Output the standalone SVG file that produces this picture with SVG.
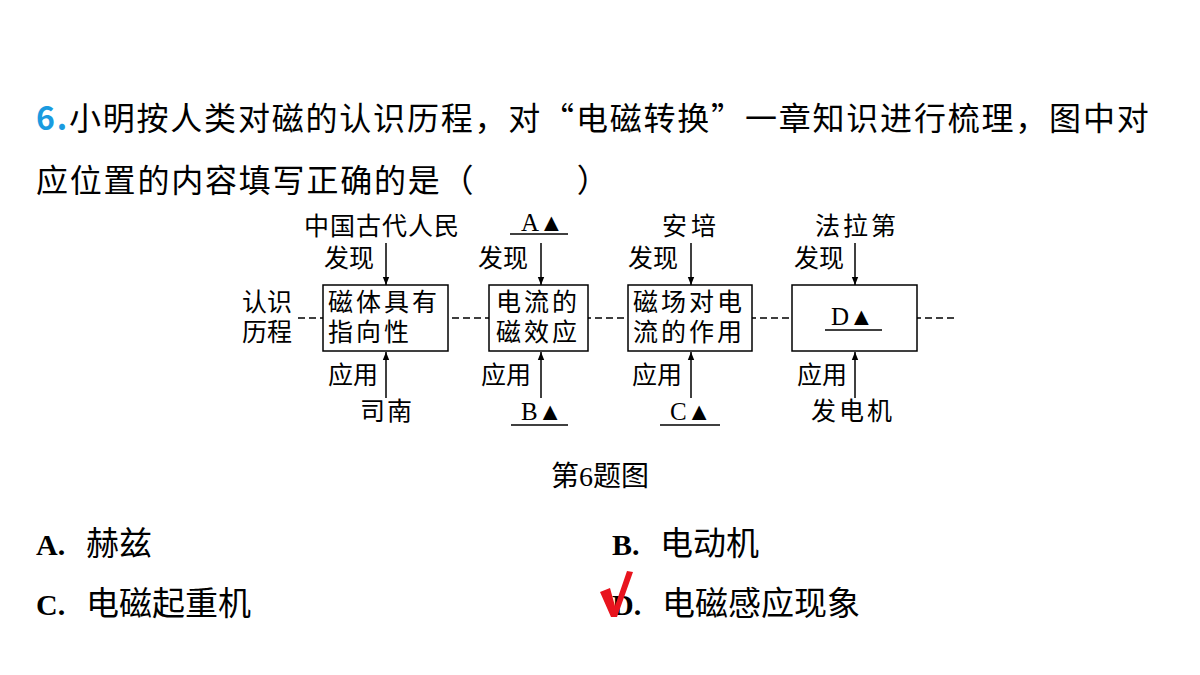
<svg xmlns="http://www.w3.org/2000/svg" width="1200" height="675" viewBox="0 0 1200 675">
<defs>
<marker id="ar" viewBox="0 0 10 10" refX="10" refY="5" markerWidth="8" markerHeight="8" markerUnits="userSpaceOnUse" orient="auto"><path d="M0,1 L10,5 L0,9 Z" fill="#000"/></marker>
</defs>
<style>
.q{font-family:"Noto Sans CJK SC","Noto Sans",sans-serif;font-size:32px;fill:#000}
.a{font-size:33px}
.d{font-family:"Liberation Serif","Noto Sans CJK SC",serif;font-size:25px;fill:#000}
.cap{font-size:28px}
.o{font-family:"Liberation Serif","Noto Sans CJK SC",serif;font-size:30px;font-weight:bold;fill:#000}
.box{fill:#fff;stroke:#000;stroke-width:1.5}
.ln{stroke:#000;stroke-width:1.5;fill:none}
</style>
<rect width="1200" height="675" fill="#fff"/>
<text x="36" y="130" class="q" letter-spacing="1.8"><tspan fill="#1a9be0" font-weight="bold">6.</tspan>小明按人类对磁的认识历程，对“电磁转换”一章知识进行梳理，图中对</text>
<text x="36" y="192" class="q" letter-spacing="1.8">应位置的内容填写正确的是（　　　）</text>
<g id="connectors">
<line x1="298" y1="318" x2="958" y2="318" class="ln" stroke-dasharray="7,4"/>
<line x1="386" y1="243" x2="386" y2="285" class="ln" marker-end="url(#ar)"/>
<line x1="386" y1="398" x2="386" y2="352" class="ln" marker-end="url(#ar)"/>
<line x1="541" y1="243" x2="541" y2="285" class="ln" marker-end="url(#ar)"/>
<line x1="541" y1="398" x2="541" y2="352" class="ln" marker-end="url(#ar)"/>
<line x1="691" y1="243" x2="691" y2="285" class="ln" marker-end="url(#ar)"/>
<line x1="691" y1="398" x2="691" y2="352" class="ln" marker-end="url(#ar)"/>
<line x1="855" y1="243" x2="855" y2="285" class="ln" marker-end="url(#ar)"/>
<line x1="855" y1="398" x2="855" y2="352" class="ln" marker-end="url(#ar)"/>
</g>
<text x="242" y="311" class="d">认识</text>
<text x="242" y="341" class="d">历程</text>
<g id="n1"><rect x="323" y="285" width="125" height="66" class="box"/>
<text x="328" y="311" class="d" letter-spacing="3">磁体具有</text><text x="328" y="341" class="d" letter-spacing="3">指向性</text>
<text x="304" y="235" class="d" letter-spacing="1">中国古代人民</text><text x="324" y="267" class="d">发现</text>
<text x="328" y="384" class="d">应用</text><text x="360" y="420" class="d" letter-spacing="2">司南</text></g>
<g id="n2"><rect x="489" y="285" width="99" height="66" class="box"/>
<text x="496" y="311" class="d" letter-spacing="3">电流的</text><text x="496" y="341" class="d" letter-spacing="3">磁效应</text>
<text x="521" y="231" class="d">A▲</text><line x1="510" y1="234" x2="568" y2="234" class="ln"/>
<text x="478" y="267" class="d">发现</text>
<text x="481" y="384" class="d">应用</text>
<text x="521" y="420" class="d">B▲</text><line x1="511" y1="425" x2="568" y2="425" class="ln"/></g>
<g id="n3"><rect x="628" y="285" width="124" height="66" class="box"/>
<text x="633" y="311" class="d" letter-spacing="3">磁场对电</text><text x="633" y="341" class="d" letter-spacing="3">流的作用</text>
<text x="662" y="235" class="d" letter-spacing="4">安培</text><text x="628" y="267" class="d">发现</text>
<text x="632" y="384" class="d">应用</text>
<text x="670" y="420" class="d">C▲</text><line x1="660" y1="425" x2="720" y2="425" class="ln"/></g>
<g id="n4"><rect x="792" y="285" width="125" height="66" class="box"/>
<text x="831" y="325" class="d">D▲</text><line x1="825" y1="330" x2="882" y2="330" class="ln"/>
<text x="815" y="235" class="d" letter-spacing="3">法拉第</text><text x="794" y="267" class="d">发现</text>
<text x="797" y="384" class="d">应用</text>
<text x="811" y="420" class="d" letter-spacing="3">发电机</text></g>
<text x="600" y="486" class="d cap" text-anchor="middle">第6题图</text>
<text x="36" y="555" class="o">A.</text><text x="86" y="555" class="q a">赫兹</text>
<text x="612" y="555" class="o">B.</text><text x="660" y="555" class="q a">电动机</text>
<text x="36" y="615" class="o">C.</text><text x="86" y="615" class="q a">电磁起重机</text>
<text x="612" y="615" class="o">D.</text><text x="662" y="615" class="q a">电磁感应现象</text>
<path d="M600,592 L610,588 L615,606 L627,571 L633,572 L617,617 L611,617 Z" fill="#e8141e"/>
</svg>
